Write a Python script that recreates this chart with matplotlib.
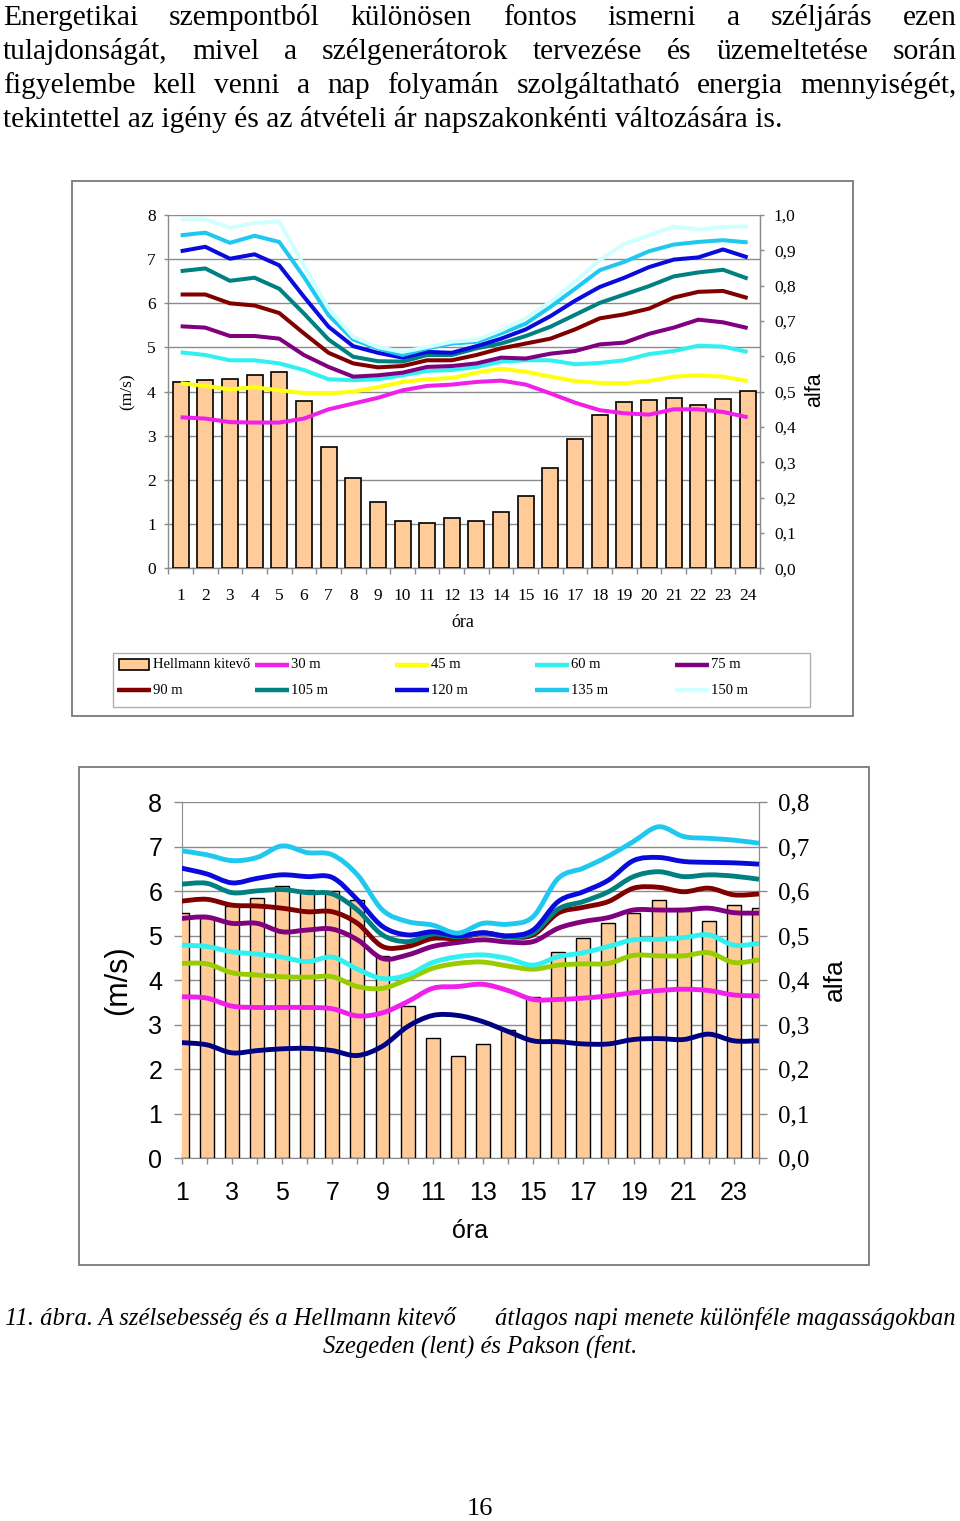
import numpy as np
import matplotlib
matplotlib.use('Agg')
import matplotlib.pyplot as plt
from matplotlib.path import Path
from matplotlib.patches import PathPatch, Rectangle
from matplotlib.lines import Line2D
from matplotlib.ticker import FuncFormatter

# ---------------- data ----------------
hours = list(range(1, 25))

# Paks (top chart)
paks_alfa = [0.526, 0.533, 0.536, 0.547, 0.557, 0.473, 0.343, 0.255, 0.189, 0.133, 0.129, 0.143,
             0.133, 0.158, 0.206, 0.284, 0.365, 0.435, 0.470, 0.477, 0.483, 0.462, 0.480, 0.503]
paks_30 = [3.42, 3.39, 3.31, 3.30, 3.30, 3.39, 3.60, 3.73, 3.86, 4.03, 4.13, 4.16,
           4.22, 4.25, 4.16, 3.96, 3.75, 3.58, 3.51, 3.48, 3.60, 3.60, 3.54, 3.42]
paks_45 = [4.19, 4.13, 4.05, 4.10, 4.03, 3.97, 3.96, 4.00, 4.10, 4.22, 4.28, 4.31,
           4.43, 4.52, 4.45, 4.34, 4.24, 4.20, 4.19, 4.24, 4.34, 4.37, 4.34, 4.24]
paks_60 = [4.89, 4.83, 4.71, 4.71, 4.64, 4.49, 4.28, 4.26, 4.28, 4.37, 4.47, 4.49,
           4.56, 4.68, 4.71, 4.71, 4.62, 4.65, 4.71, 4.85, 4.92, 5.04, 5.02, 4.90]
paks_75 = [5.48, 5.45, 5.26, 5.26, 5.20, 4.83, 4.56, 4.34, 4.37, 4.43, 4.56, 4.58,
           4.64, 4.77, 4.75, 4.86, 4.92, 5.07, 5.11, 5.31, 5.45, 5.63, 5.57, 5.44]
paks_90 = [6.20, 6.20, 6.00, 5.95, 5.78, 5.32, 4.88, 4.64, 4.55, 4.58, 4.71, 4.71,
           4.83, 4.98, 5.09, 5.20, 5.41, 5.66, 5.75, 5.88, 6.13, 6.26, 6.28, 6.12]
paks_105 = [6.73, 6.79, 6.51, 6.58, 6.33, 5.77, 5.18, 4.79, 4.69, 4.68, 4.83, 4.83,
            4.98, 5.09, 5.26, 5.47, 5.74, 6.01, 6.20, 6.39, 6.61, 6.70, 6.76, 6.56]
paks_120 = [7.18, 7.28, 7.01, 7.11, 6.86, 6.15, 5.47, 5.03, 4.88, 4.77, 4.90, 4.88,
            5.03, 5.20, 5.41, 5.71, 6.06, 6.37, 6.58, 6.82, 6.99, 7.04, 7.22, 7.04]
paks_135 = [7.54, 7.60, 7.37, 7.53, 7.39, 6.60, 5.73, 5.18, 4.98, 4.83, 4.98, 5.09,
            5.13, 5.32, 5.54, 5.92, 6.33, 6.75, 6.94, 7.18, 7.33, 7.39, 7.43, 7.38]
paks_150 = [7.90, 7.90, 7.71, 7.82, 7.85, 6.86, 5.88, 5.24, 5.01, 4.90, 5.01, 5.13,
            5.17, 5.39, 5.66, 6.03, 6.49, 6.98, 7.35, 7.54, 7.74, 7.67, 7.73, 7.74]
paks_labels = ["30 m", "45 m", "60 m", "75 m", "90 m", "105 m", "120 m", "135 m", "150 m"]
paks_colors = ["#F020E8", "#FFFF10", "#30F0F0", "#800080", "#800000", "#008080",
               "#0A0ADC", "#20C8F0", "#D0FFFF"]

# Szeged (bottom chart)
szeged_alfa = [0.551, 0.540, 0.566, 0.584, 0.613, 0.603, 0.601, 0.581, 0.455, 0.342, 0.270, 0.230,
               0.257, 0.288, 0.362, 0.464, 0.494, 0.528, 0.551, 0.581, 0.555, 0.534, 0.569, 0.562]
szeged_navy = [2.60, 2.55, 2.37, 2.42, 2.46, 2.47, 2.42, 2.31, 2.52, 2.96, 3.21, 3.21,
               3.07, 2.85, 2.64, 2.62, 2.57, 2.57, 2.67, 2.69, 2.67, 2.79, 2.64, 2.64]
szeged_magenta = [3.63, 3.60, 3.42, 3.39, 3.39, 3.39, 3.36, 3.20, 3.27, 3.52, 3.82, 3.86,
                  3.91, 3.77, 3.57, 3.57, 3.60, 3.65, 3.72, 3.77, 3.80, 3.77, 3.67, 3.65]
szeged_green = [4.38, 4.37, 4.17, 4.12, 4.08, 4.07, 4.08, 3.86, 3.82, 4.02, 4.27, 4.38,
                4.41, 4.32, 4.25, 4.34, 4.37, 4.38, 4.56, 4.55, 4.55, 4.62, 4.40, 4.46]
szeged_cyan = [4.79, 4.76, 4.64, 4.59, 4.52, 4.42, 4.52, 4.25, 4.04, 4.12, 4.40, 4.53,
               4.57, 4.49, 4.34, 4.53, 4.62, 4.76, 4.91, 4.92, 4.96, 5.02, 4.79, 4.83]
szeged_purple = [5.39, 5.42, 5.28, 5.28, 5.09, 5.13, 5.15, 4.91, 4.49, 4.57, 4.76, 4.85,
                 4.91, 4.86, 4.87, 5.17, 5.32, 5.41, 5.58, 5.58, 5.58, 5.62, 5.52, 5.51]
szeged_darkred = [5.78, 5.82, 5.69, 5.67, 5.62, 5.54, 5.54, 5.28, 4.76, 4.76, 4.94, 4.94,
                  5.06, 4.98, 5.02, 5.51, 5.64, 5.77, 6.07, 6.09, 5.99, 6.07, 5.92, 5.94]
szeged_teal = [6.16, 6.18, 5.97, 6.01, 6.04, 5.97, 5.94, 5.58, 5.02, 4.87, 5.04, 4.98,
               5.06, 4.98, 5.06, 5.60, 5.77, 5.99, 6.33, 6.44, 6.33, 6.37, 6.34, 6.27]
szeged_blue = [6.52, 6.39, 6.19, 6.29, 6.37, 6.33, 6.31, 5.81, 5.21, 5.02, 5.09, 5.00,
               5.07, 5.00, 5.13, 5.77, 5.99, 6.25, 6.69, 6.76, 6.67, 6.65, 6.64, 6.61]
szeged_sky = [6.91, 6.82, 6.69, 6.76, 7.02, 6.87, 6.82, 6.37, 5.58, 5.32, 5.24, 5.06,
              5.28, 5.26, 5.43, 6.29, 6.52, 6.79, 7.12, 7.45, 7.23, 7.19, 7.15, 7.08]
szeged_colors = ["#000080", "#F020E8", "#99CC00", "#30F0F0", "#800080", "#800000",
                 "#008080", "#0A0ADC", "#20C8F0"]

bar_color = "#FFCC99"
grid_color = "#8C8C8C"

# ---------------- figure ----------------
W, H = 960, 1521
fig = plt.figure(figsize=(W / 100, H / 100), dpi=100)
fig.patch.set_facecolor("white")
renderer = fig.canvas.get_renderer()


def fx(x):
    return x / W


def fy(y):
    return 1 - y / H


def twidth(s, **kw):
    t = fig.text(0, 0, s, **kw)
    w = t.get_window_extent(renderer).width
    t.remove()
    return w


SERIF = "Liberation Serif"
SANS = "Liberation Sans"

# ---------------- paragraph ----------------
para = ["Energetikai szempontból különösen fontos ismerni a széljárás ezen",
        "tulajdonságát, mivel a szélgenerátorok tervezése és üzemeltetése során",
        "figyelembe kell venni a nap folyamán szolgáltatható energia mennyiségét,",
        "tekintettel az igény és az átvételi ár napszakonkénti változására is."]
ref = twidth(para[3], family=SERIF, fontsize=20)
psize = 20 * 782 / ref
baselines = [25, 59, 93, 127]
for i, line in enumerate(para):
    if i < 3:
        words = line.split()
        ws = [twidth(w, family=SERIF, fontsize=psize) for w in words]
        gap = (957 - 3 - sum(ws)) / (len(words) - 1)
        x = 3
        for w, wd in zip(words, ws):
            fig.text(fx(x), fy(baselines[i]), w, family=SERIF, fontsize=psize,
                     ha="left", va="baseline")
            x += wd + gap
    else:
        fig.text(fx(3), fy(baselines[i]), line, family=SERIF, fontsize=psize,
                 ha="left", va="baseline")

# ---------------- frames ----------------
fig.add_artist(Rectangle((fx(72), fy(716)), fx(853 - 72), (716 - 181) / H,
                         transform=fig.transFigure, fill=False, edgecolor="#7a7a7a", lw=1.3))
fig.add_artist(Rectangle((fx(79), fy(1265)), fx(869 - 79), (1265 - 767) / H,
                         transform=fig.transFigure, fill=False, edgecolor="#7a7a7a", lw=1.3))


def comma(v, pos=None):
    return f"{v:.1f}".replace(".", ",")


def smooth_path(x, y):
    x = np.asarray(x, float)
    y = np.asarray(y, float)
    n = len(x)
    verts = [(x[0], y[0])]
    codes = [Path.MOVETO]
    for i in range(n - 1):
        p0 = i - 1 if i > 0 else i
        p3 = i + 2 if i + 2 < n else i + 1
        c1 = (x[i] + (x[i + 1] - x[p0]) / 6, y[i] + (y[i + 1] - y[p0]) / 6)
        c2 = (x[i + 1] - (x[p3] - x[i]) / 6, y[i + 1] - (y[p3] - y[i]) / 6)
        verts += [c1, c2, (x[i + 1], y[i + 1])]
        codes += [Path.CURVE4] * 3
    return Path(verts, codes)


# ---------------- top chart (Paks) ----------------
l, r, t, b = 168.3, 760.0, 215.0, 568.3
ax = fig.add_axes([fx(l), fy(b), fx(r - l), (b - t) / H])
ax.set_xlim(0.5, 24.5)
ax.set_ylim(0, 8)
ax.set_yticks(range(0, 9))
ax.yaxis.grid(True, color=grid_color, lw=1.0)
ax.set_axisbelow(True)
ax.spines["top"].set_visible(False)
for s in ["left", "bottom", "right"]:
    ax.spines[s].set_color(grid_color)
    ax.spines[s].set_linewidth(1.0)
ax.tick_params(axis="y", direction="out", length=3, width=1, color=grid_color, pad=6,
               labelsize=12.5, labelfontfamily=SERIF)
ax.set_xticks(hours)
ax.set_xticks(np.arange(0.5, 25, 1), minor=True)
ax.tick_params(axis="x", which="major", length=0, pad=14, labelsize=12.5, labelfontfamily=SERIF)
ax.tick_params(axis="x", which="minor", direction="out", length=4, width=1, color=grid_color)

ax2 = ax.twinx()
ax2.set_ylim(0, 1)
ax2.set_yticks(np.arange(0, 1.01, 0.1))
ax2.yaxis.set_major_formatter(FuncFormatter(comma))
ax2.bar(hours, paks_alfa, width=0.65, color=bar_color, edgecolor="black", lw=1.2, zorder=2)
for s in ["top", "left", "bottom"]:
    ax2.spines[s].set_visible(False)
ax2.spines["right"].set_color(grid_color)
ax2.tick_params(axis="y", direction="out", length=3, width=1, color=grid_color, pad=7,
                labelsize=12.5, labelfontfamily=SERIF)

ax3 = ax.twinx()
ax3.set_ylim(0, 8)
ax3.set_axis_off()
paks_series = [paks_30, paks_45, paks_60, paks_75, paks_90, paks_105, paks_120, paks_135, paks_150]
for vals, col in zip(paks_series, paks_colors):
    ax3.plot(hours, vals, color=col, lw=2.9, solid_joinstyle="round", solid_capstyle="butt")

fig.text(fx(128), fy(392), "(m/s)", rotation=90, family=SERIF, fontsize=12.5, ha="center", va="center")
fig.text(fx(815), fy(390), "alfa", rotation=90, family=SANS, fontsize=15.5, ha="center", va="center")
fig.text(fx(463), fy(623), "óra", family=SERIF, fontsize=13, ha="center", va="center")

# legend (manual layout, equal columns)
fig.add_artist(Rectangle((fx(113), fy(707)), fx(810 - 113), (707 - 653) / H,
                         transform=fig.transFigure, fill=False, edgecolor="#b0b0b0", lw=1.0))
leg_cols = [117, 255, 395, 535, 675]
leg_rows = [665, 690]
entries = [("Hellmann kitevő", None)] + list(zip(paks_labels, paks_colors))
for k, (lab, col) in enumerate(entries):
    row, c = divmod(k, 5)
    x0 = leg_cols[c]
    yy = leg_rows[row]
    if col is None:
        fig.add_artist(Rectangle((fx(x0 + 2), fy(yy + 5)), fx(30), 11 / H, transform=fig.transFigure,
                                 facecolor=bar_color, edgecolor="black", lw=1.2))
    else:
        fig.add_artist(Line2D([fx(x0), fx(x0 + 34)], [fy(yy), fy(yy)], transform=fig.transFigure,
                              color=col, lw=3.2, solid_capstyle="butt"))
    fig.text(fx(x0 + 36), fy(yy), lab, family=SERIF, fontsize=10.5, ha="left", va="center")

# ---------------- bottom chart (Szeged) ----------------
l, r, t, b = 181.7, 759.0, 802.3, 1158.3
bx = fig.add_axes([fx(l), fy(b), fx(r - l), (b - t) / H])
bx.set_xlim(1, 24)
bx.set_ylim(0, 8)
bx.set_yticks(range(0, 9))
bx.yaxis.grid(True, color=grid_color, lw=1.0)
bx.set_axisbelow(True)
bx.spines["top"].set_visible(False)
for s in ["left", "bottom", "right"]:
    bx.spines[s].set_color(grid_color)
bx.tick_params(axis="y", direction="out", length=6, width=1, color=grid_color, pad=8,
               labelsize=18, labelfontfamily=SANS)
bx.set_xticks(hours)
bx.set_xticklabels([str(h) if h % 2 == 1 else "" for h in hours])
bx.tick_params(axis="x", direction="inout", length=9, width=1, color=grid_color, pad=12,
               labelsize=18, labelfontfamily=SANS)

bx2 = bx.twinx()
bx2.set_ylim(0, 0.8)
bx2.set_yticks(np.arange(0, 0.81, 0.1))
bx2.yaxis.set_major_formatter(FuncFormatter(comma))
bx2.bar(hours, szeged_alfa, width=0.55, color=bar_color, edgecolor="black", lw=1.0, zorder=2)
for s in ["top", "left", "bottom"]:
    bx2.spines[s].set_visible(False)
bx2.spines["right"].set_color(grid_color)
bx2.tick_params(axis="y", direction="out", length=6, width=1, color=grid_color, pad=8,
                labelsize=18, labelfontfamily=SERIF)

bx3 = bx.twinx()
bx3.set_ylim(0, 8)
bx3.set_xlim(1, 24)
bx3.set_axis_off()
szeged_series = [szeged_navy, szeged_magenta, szeged_green, szeged_cyan, szeged_purple,
                 szeged_darkred, szeged_teal, szeged_blue, szeged_sky]
for vals, col in zip(szeged_series, szeged_colors):
    bx3.add_patch(PathPatch(smooth_path(hours, vals), fill=False, edgecolor=col, lw=3.5,
                            capstyle="butt", joinstyle="round"))

fig.text(fx(118), fy(980), "(m/s)", rotation=90, family=SANS, fontsize=22, ha="center", va="center")
fig.text(fx(835), fy(980), "alfa", rotation=90, family=SANS, fontsize=19, ha="center", va="center")
fig.text(fx(470), fy(1231), "óra", family=SANS, fontsize=18, ha="center", va="center")

# ---------------- caption ----------------
cap2 = "Szegeden (lent) és Pakson (fent."
ref = twidth(cap2, family=SERIF, style="italic", fontsize=18)
csize = 18 * 314 / ref
fig.text(fx(5), fy(1325), "11. ábra. A szélsebesség és a Hellmann kitevő", family=SERIF,
         style="italic", fontsize=csize, ha="left", va="baseline")
fig.text(fx(956), fy(1325), "átlagos napi menete különféle magasságokban", family=SERIF,
         style="italic", fontsize=csize, ha="right", va="baseline")
fig.text(fx(480), fy(1353), cap2, family=SERIF, style="italic", fontsize=csize,
         ha="center", va="baseline")
fig.text(fx(480), fy(1515), "16", family=SERIF, fontsize=19, ha="center", va="baseline")

fig.savefig("out.png", dpi=100, facecolor="white")
